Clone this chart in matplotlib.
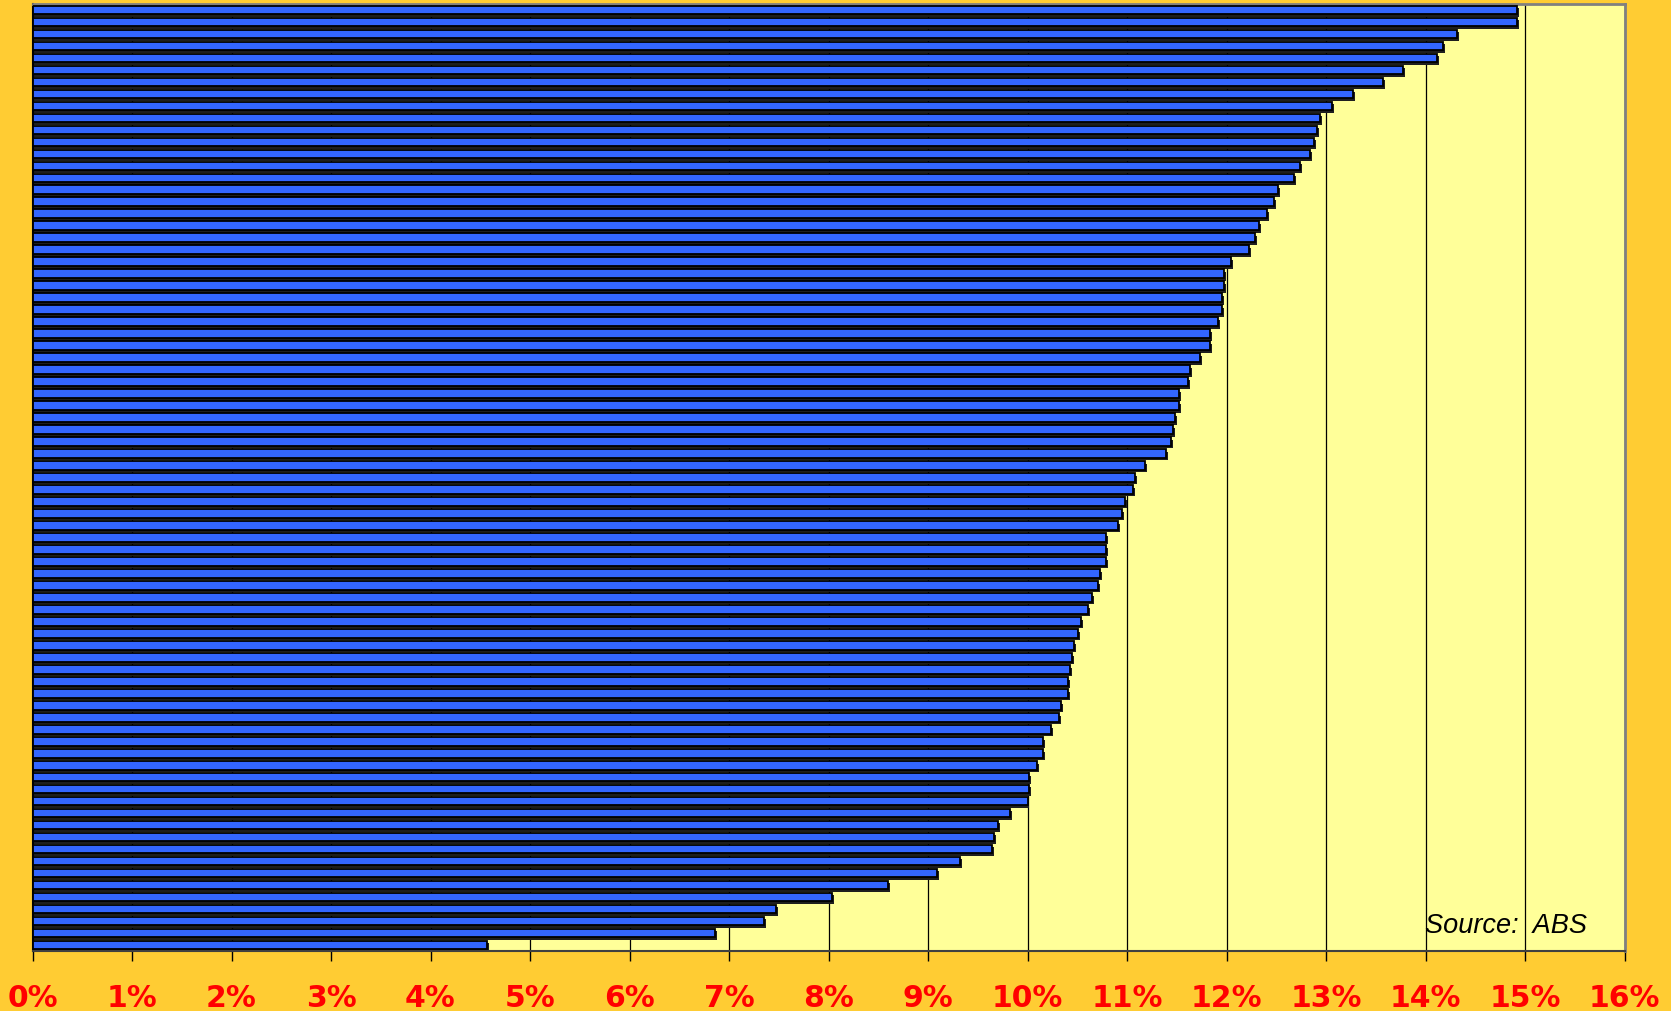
import matplotlib
matplotlib.use("Agg")
import matplotlib.pyplot as plt
import numpy as np

# Values (percent), top bar first
values = [14.92, 14.92, 14.32, 14.18, 14.12, 13.77, 13.57, 13.27, 13.06, 12.94,
          12.91, 12.88, 12.84, 12.74, 12.68, 12.52, 12.48, 12.41, 12.33, 12.29,
          12.23, 12.05, 11.97, 11.97, 11.95, 11.95, 11.91, 11.83, 11.83, 11.73,
          11.63, 11.61, 11.52, 11.52, 11.48, 11.46, 11.44, 11.39, 11.18, 11.08,
          11.06, 10.98, 10.95, 10.91, 10.79, 10.79, 10.79, 10.73, 10.71, 10.65,
          10.61, 10.54, 10.51, 10.47, 10.45, 10.43, 10.41, 10.41, 10.34, 10.32,
          10.24, 10.16, 10.16, 10.10, 10.02, 10.02, 10.00, 9.82, 9.70, 9.66,
          9.64, 9.32, 9.09, 8.60, 8.04, 7.47, 7.35, 6.86, 4.57]
tick_values = list(range(0, 17))
tick_labels = [f"{t}%" for t in tick_values]
source_text = "Source:  ABS"

fig = plt.figure(figsize=(16.71, 10.12), dpi=100, facecolor="#FFCC33")
ax = fig.add_axes([32.5 / 1671, 1 - 952 / 1012, (1624.5 - 32.5) / 1671, (952 - 5) / 1012])
ax.set_facecolor("#FFFF99")

y = np.arange(len(values))
h = 0.72
# shadow
ax.barh(y + 0.22, np.array(values) + 0.02, height=h, left=0, color="#1e1e1e",
        edgecolor="none", zorder=2)
ax.barh(y, values, height=h, color="#3366FF", edgecolor="black", linewidth=1.3, zorder=3)

ax.set_xlim(0, 16)
ax.set_ylim(len(values) - 0.5, -0.5)
ax.set_yticks([])
ax.set_xticks(tick_values)
ax.set_xticklabels(tick_labels)
ax.xaxis.grid(True, color="black", linewidth=0.9, zorder=1)
ax.set_axisbelow(True)
ax.tick_params(axis="x", direction="out", length=7, width=1, color="black", pad=16,
               labelsize=21.5, labelcolor="#FF0000")
for lab in ax.get_xticklabels():
    lab.set_fontweight("bold")
    lab.set_family("DejaVu Sans")

for side in ["top", "right"]:
    ax.spines[side].set_color("#808080")
    ax.spines[side].set_linewidth(2)
ax.spines["left"].set_color("black")
ax.spines["left"].set_linewidth(1.5)
ax.spines["bottom"].set_color("#404040")
ax.spines["bottom"].set_linewidth(1.5)

ax.text(15.62, 76.3, source_text, ha="right", va="center", fontsize=19.5,
        fontstyle="italic", family="Liberation Sans", color="black", zorder=5)

fig.savefig("out.png", dpi=100, facecolor=fig.get_facecolor())
